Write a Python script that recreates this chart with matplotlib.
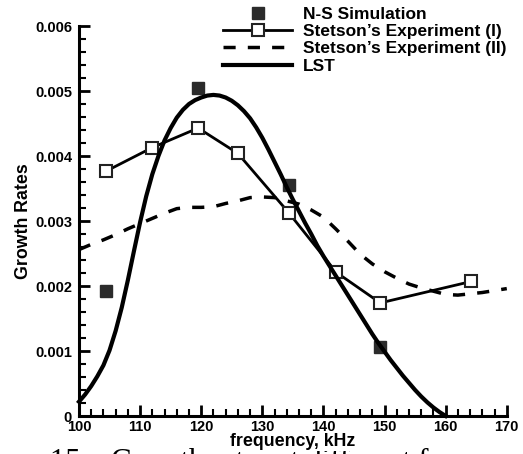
import numpy as np
from matplotlib import pyplot as plt
from matplotlib.ticker import MultipleLocator

plt.rcParams['font.family'] = 'Liberation Sans'
plt.rcParams['font.weight'] = 'bold'
plt.rcParams['axes.labelweight'] = 'bold'

# N-S simulation (filled squares)
ns_freq = [104.5, 119.5, 134.4, 149.2]
ns_rate = [0.00193, 0.00505, 0.00355, 0.00106]

# Stetson's experiment (I) (open squares + line)
st1_freq = [104.5, 112.0, 119.5, 126.0, 134.3, 142.1, 149.3, 164.2]
st1_rate = [0.00377, 0.00413, 0.00443, 0.00404, 0.00313, 0.00221, 0.00174, 0.00207]

# Stetson's experiment (II) (dashed)
st2_freq = [100, 102, 104, 106, 108, 110, 112, 114, 116, 118, 120, 122, 124, 126,
            128, 130, 132, 134, 136, 138, 140, 142, 144, 146, 148, 150, 152, 154,
            156, 158, 160, 162, 164, 166, 168, 170]
st2_rate = [0.00256, 0.00264, 0.00271, 0.00279, 0.00288, 0.00296, 0.00304, 0.00312,
            0.00319, 0.00321, 0.00321, 0.00322, 0.00327, 0.00331, 0.00336, 0.00337,
            0.00336, 0.00331, 0.00326, 0.00317, 0.00306, 0.00288, 0.00269, 0.00249,
            0.00234, 0.00222, 0.00212, 0.00203, 0.00197, 0.00192, 0.00187, 0.00186,
            0.00188, 0.00190, 0.00193, 0.00196]

# LST curve
lst_freq = list(range(100, 161))
lst_rate = [0.00022, 0.00033, 0.00046, 0.00061, 0.00078, 0.00101, 0.00131, 0.00167,
            0.00209, 0.00254, 0.00298, 0.00338, 0.00372, 0.00400, 0.00424, 0.00443,
            0.00459, 0.00471, 0.00480, 0.00486, 0.00490, 0.00493, 0.00494, 0.00493,
            0.00490, 0.00485, 0.00478, 0.00469, 0.00458, 0.00444, 0.00428, 0.00410,
            0.00391, 0.00372, 0.00352, 0.00333, 0.00315, 0.00297, 0.00280, 0.00262,
            0.00246, 0.00231, 0.00216, 0.00201, 0.00186, 0.00171, 0.00156, 0.00141,
            0.00126, 0.00112, 0.00099, 0.00086, 0.00074, 0.00062, 0.00051, 0.00040,
            0.00030, 0.00021, 0.00013, 0.00006, 0.0]

fig = plt.figure(figsize=(5.23, 4.54), dpi=100)
ax = fig.add_axes([0.151, 0.0837, 0.818, 0.859])

ax.plot(ns_freq, ns_rate, ls='none', marker='s', ms=8.5, mfc='#2b2b2b', mec='#2b2b2b',
        label='N-S Simulation', clip_on=False)
ax.plot(st1_freq, st1_rate, color='black', lw=2, marker='s', ms=8, mfc='white',
        mec='#222222', mew=1.5, label='Stetson\u2019s Experiment (I)', clip_on=False)
ax.plot(st2_freq, st2_rate, color='black', lw=2.5, dashes=(3.5, 3.5),
        label='Stetson\u2019s Experiment (II)', clip_on=False)
ax.plot(lst_freq, lst_rate, color='black', lw=3, label='LST', clip_on=False)

ax.set_xlim(100, 170)
ax.set_ylim(0, 0.006)
ax.xaxis.set_major_locator(MultipleLocator(10))
ax.xaxis.set_minor_locator(MultipleLocator(2))
ax.yaxis.set_minor_locator(MultipleLocator(0.0002))
ax.set_yticks([0, 0.001, 0.002, 0.003, 0.004, 0.005, 0.006])
ax.set_yticklabels(['0', '0.001', '0.002', '0.003', '0.004', '0.005', '0.006'])

for s in ['top', 'right']:
    ax.spines[s].set_visible(False)
for s in ['left', 'bottom']:
    ax.spines[s].set_linewidth(2.2)

ax.tick_params(which='major', direction='in', length=8, width=2, labelsize=10.5, pad=3)
ax.tick_params(axis='y', which='major', pad=5)
ax.tick_params(which='minor', direction='in', length=5, width=1.5)

ax.set_xlabel('frequency, kHz', fontsize=12.8, labelpad=-1,
              bbox=dict(facecolor='white', edgecolor='none', pad=1))
ax.set_ylabel('Growth Rates', fontsize=12.8, labelpad=2)

leg = fig.legend(loc='upper left', bbox_to_anchor=(0.426, 0.985), frameon=False,
                 fontsize=12.5, handlelength=4.0, handletextpad=0.62, labelspacing=0.12,
                 borderaxespad=0.0, borderpad=0.0)

# caption of the source page, cut off at the bottom (sits behind the x label)
fig.text(0.095, 0.0135, '15.   Growth rates at different frequencies for the',
         family='Liberation Serif', weight='normal', fontsize=22, va='top', zorder=-1)

fig.savefig('out.png', dpi=100)
